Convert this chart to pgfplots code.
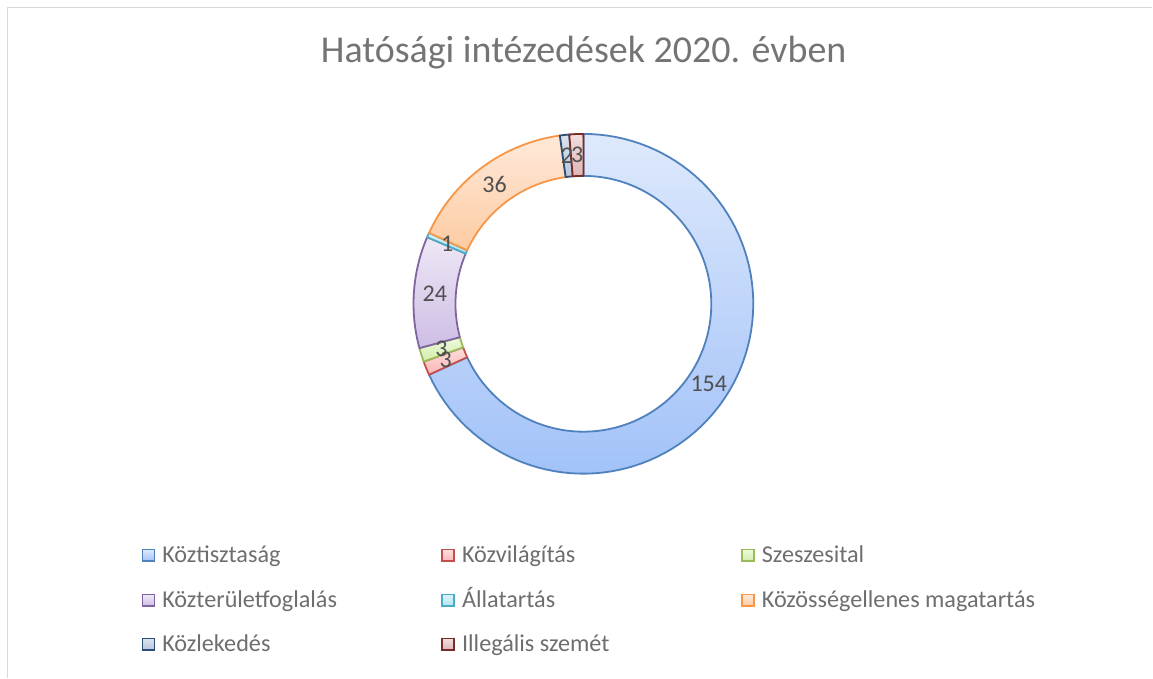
\documentclass[border=0pt]{standalone}
\usepackage{pgfplots}
\pgfplotsset{compat=1.18}
\usepackage{pgfplotstable}
\usepackage{fontspec}
\setmainfont{Carlito}

% values (clockwise from 12 o'clock)
\pgfplotstableread{
idx value
0 154
1 3
2 3
3 24
4 1
5 36
6 2
7 3
}\doughnutdata

\definecolor{t0}{HTML}{DEE9FC}\definecolor{b0}{HTML}{A2C2F8}\definecolor{d0}{HTML}{4F81BD}
\definecolor{t1}{HTML}{FFDCDC}\definecolor{b1}{HTML}{F9B7B6}\definecolor{d1}{HTML}{C0504D}
\definecolor{t2}{HTML}{EEF9DD}\definecolor{b2}{HTML}{D3EDAB}\definecolor{d2}{HTML}{9BBB59}
\definecolor{t3}{HTML}{EEE8F6}\definecolor{b3}{HTML}{CDBDE4}\definecolor{d3}{HTML}{8064A2}
\definecolor{t4}{HTML}{DDF3FA}\definecolor{b4}{HTML}{B0E2F0}\definecolor{d4}{HTML}{4BACC6}
\definecolor{t5}{HTML}{FFE9DA}\definecolor{b5}{HTML}{FDCBA2}\definecolor{d5}{HTML}{F79646}
\definecolor{t6}{HTML}{DCE3EE}\definecolor{b6}{HTML}{B7C6DB}\definecolor{d6}{HTML}{2C4D75}
\definecolor{t7}{HTML}{F1DEDD}\definecolor{b7}{HTML}{DDB6B5}\definecolor{d7}{HTML}{772C2A}
\definecolor{labcol}{HTML}{505050}
\definecolor{legcol}{HTML}{6E6E6E}
\definecolor{titcol}{HTML}{747474}
\definecolor{framecol}{HTML}{D9D9D9}

\def\cx{583.8}\def\cy{304}\def\Ro{170}\def\Ri{128}\def\Rm{149}

\newcommand\seg[1]{%
\shadedraw[top color=t#1, bottom color=b#1, draw=d#1, line width=0.9pt, line join=round]
 plot[domain=\csname segs#1\endcsname:\csname sege#1\endcsname, samples=90, variable=\t]
   (axis cs:{\cx+\Ro*sin(\t*\segk)},{\cy-\Ro*cos(\t*\segk)})
 -- plot[domain=\csname sege#1\endcsname:\csname segs#1\endcsname, samples=90, variable=\t]
   (axis cs:{\cx+\Ri*sin(\t*\segk)},{\cy-\Ri*cos(\t*\segk)})
 -- cycle;}

\newcommand\lab[1]{%
\node[text=labcol, inner sep=0pt, font=\fontsize{12}{14}\selectfont]
 at (axis cs:{\cx+\Rm*sin((\csname segs#1\endcsname+\csname sege#1\endcsname)/2*\segk)},%
{\cy-\Rm*cos((\csname segs#1\endcsname+\csname sege#1\endcsname)/2*\segk)}) {\csname segv#1\endcsname};}

\newcommand\legentry[4]{% x, baseline y, colour index, text
\shadedraw[top color=t#3, bottom color=b#3, draw=d#3, line width=0.8pt]
 (axis cs:{#1+0.5},{#2-13}) rectangle (axis cs:{#1+12.5},{#2-1.5});
\node[anchor=base west, inner sep=0pt, text=legcol, font=\fontsize{12.1}{14}\selectfont]
 at (axis cs:{#1+20},{#2}) {#4};}

\begin{document}
\begin{tikzpicture}
\pgfplotstablegetrowsof{\doughnutdata}
\pgfmathtruncatemacro\nrows{\pgfplotsretval-1}
\xdef\cum{0}
\foreach \i in {0,...,\nrows}{%
  \pgfplotstablegetelem{\i}{value}\of\doughnutdata
  \expandafter\xdef\csname segv\i\endcsname{\pgfplotsretval}%
  \pgfmathsetmacro\e{\cum+\pgfplotsretval}%
  \expandafter\xdef\csname segs\i\endcsname{\cum}%
  \expandafter\xdef\csname sege\i\endcsname{\e}%
  \xdef\cum{\e}%
}
\pgfmathsetmacro\tmpk{360/\cum}
\xdef\segk{\tmpk}
\begin{axis}[
  width=576.5pt, height=339pt, scale only axis,
  xmin=0, xmax=1153, ymin=0, ymax=678, y dir=reverse,
  hide axis, clip=false,
]
\path (axis cs:0,0) rectangle (axis cs:1153,678);
\draw[framecol, line width=0.8pt] (axis cs:7.5,678) -- (axis cs:7.5,7.5) -- (axis cs:1153,7.5);

\node[anchor=base, text=titcol, inner sep=0pt, font=\fontsize{19}{22}\selectfont]
  at (axis cs:584,63) {Hatósági intézedések 2020. évben};

\seg{0}\seg{1}\seg{2}\seg{3}\seg{4}\seg{5}\seg{6}\seg{7}
\lab{0}\lab{1}\lab{2}\lab{3}\lab{4}\lab{5}\lab{6}\lab{7}

\legentry{142}{563}{0}{Köztisztaság}
\legentry{442}{563}{1}{Közvilágítás}
\legentry{742}{563}{2}{Szeszesital}
\legentry{142}{608}{3}{Közterületfoglalás}
\legentry{442}{608}{4}{Állatartás}
\legentry{742}{608}{5}{Közösségellenes magatartás}
\legentry{142}{652}{6}{Közlekedés}
\legentry{442}{652}{7}{Illegális szemét}
\end{axis}
\end{tikzpicture}
\end{document}
